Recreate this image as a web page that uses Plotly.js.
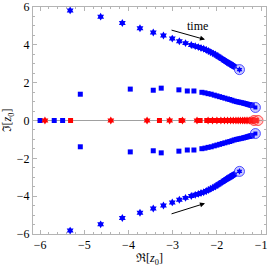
<!DOCTYPE html>
<html><head><meta charset="utf-8">
<script src="https://cdn.plot.ly/plotly-3.0.1.min.js"></script>
<style>html,body{margin:0;padding:0;background:#fff}#c{width:269px;height:269px}</style>
</head><body><div id="c"></div>
<script>
// Complex pair, star family (upper half; lower half is conjugate)
const starX = [-5.32,-4.63,-4.14,-3.74,-3.44,-3.21,-3.01,-2.85,-2.71,-2.58,-2.49,-2.42,-2.36,-2.30,-2.24,-2.19,-2.14,-2.09,-2.04,-2.00,-1.96,-1.92,-1.88,-1.84,-1.81,-1.78,-1.75,-1.72,-1.69,-1.67,-1.65,-1.63,-1.61];
const starY = [5.82,5.49,5.15,4.88,4.65,4.49,4.33,4.19,4.09,3.99,3.93,3.88,3.83,3.79,3.73,3.67,3.61,3.55,3.49,3.43,3.37,3.31,3.25,3.19,3.14,3.09,3.05,3.01,2.97,2.94,2.91,2.88,2.85];
// Complex pair, square family
const sqX = [-5.09,-3.96,-3.44,-3.26,-2.86,-2.67,-2.52,-2.34,-2.27,-2.20,-2.13,-2.06,-2.00,-1.94,-1.88,-1.82,-1.76,-1.71,-1.66,-1.61,-1.56,-1.52,-1.48,-1.44,-1.40,-1.37,-1.34,-1.31,-1.28,-1.26,-1.24,-1.22,-1.20];
const sqY = [1.39,1.66,1.60,1.71,1.62,1.56,1.56,1.49,1.46,1.42,1.39,1.34,1.30,1.26,1.22,1.18,1.14,1.11,1.07,1.03,1.00,0.98,0.96,0.94,0.92,0.90,0.88,0.86,0.84,0.83,0.82,0.81,0.79];
// Real roots
const blueRealSqX = [-6.00,-5.68,-5.49];
const redStarX = [-5.89,-4.40,-3.58,-3.07,-2.78,-2.45,-2.20,-2.10,-2.00,-1.91,-1.83,-1.76,-1.69,-1.63,-1.57,-1.52,-1.47,-1.42,-1.38,-1.34,-1.30,-1.26,-1.23,-1.20,-1.17,-1.14];
const redSqX = [-5.31,-3.30,-2.81,-2.38,-2.23,-2.14,-2.05,-1.96,-1.88,-1.80,-1.73,-1.66,-1.60,-1.54,-1.49,-1.44,-1.40,-1.36,-1.32,-1.28,-1.25,-1.22,-1.19,-1.16,-1.13,-1.11];
// Final (circled) points
const endStarX = [-1.49,-1.49];
const endStarY = [2.69,-2.69];
const endSqX = [-1.13,-1.13];
const endSqY = [0.69,-0.69];
const endRedX = [-1.16,-1.07];

const neg = a => a.map(v => -v);
const zeros = a => a.map(() => 0);
const BLUE = '#0000ff', RED = '#ff0000';
const ringB = {symbol:'circle', size:10, color:'rgba(80,80,255,0.3)', line:{color:'rgba(40,40,255,0.8)', width:1}};
const ringR = {symbol:'circle', size:10, color:'rgba(255,80,80,0.3)', line:{color:'rgba(255,40,40,0.8)', width:1}};

const traces = [
  {x: starX, y: starY, mode:'markers', marker:{symbol:'hexagram', size:6, color:BLUE}},
  {x: starX, y: neg(starY), mode:'markers', marker:{symbol:'hexagram', size:6, color:BLUE}},
  {x: sqX, y: sqY, mode:'markers', marker:{symbol:'square', size:5, color:BLUE}},
  {x: sqX, y: neg(sqY), mode:'markers', marker:{symbol:'square', size:5, color:BLUE}},
  {x: blueRealSqX, y: zeros(blueRealSqX), mode:'markers', marker:{symbol:'square', size:5, color:BLUE}},
  {x: redStarX, y: zeros(redStarX), mode:'markers', marker:{symbol:'hexagram', size:6, color:RED}},
  {x: redSqX, y: zeros(redSqX), mode:'markers', marker:{symbol:'square', size:5, color:RED}},
  {x: endStarX, y: endStarY, mode:'markers', marker:ringB},
  {x: endStarX, y: endStarY, mode:'markers', marker:{symbol:'hexagram', size:5, color:BLUE}},
  {x: endSqX, y: endSqY, mode:'markers', marker:ringB},
  {x: endSqX, y: endSqY, mode:'markers', marker:{symbol:'square', size:4, color:BLUE}},
  {x: endRedX, y: zeros(endRedX), mode:'markers', marker:ringR}
];

const frame = '#b4b4b4';
const layout = {
  width:269, height:269,
  margin:{l:33, r:3, t:7, b:35},
  paper_bgcolor:'#fff', plot_bgcolor:'#fff',
  showlegend:false,
  font:{family:'Liberation Serif, Times New Roman, serif', size:12, color:'#000'},
  xaxis:{
    range:[-6.16,-0.89], tickvals:[-6,-5,-4,-3,-2,-1],
    showgrid:false, zeroline:false, showline:true, mirror:'ticks', linecolor:frame, linewidth:1,
    ticks:'inside', ticklen:4, tickcolor:frame, ticklabeloverflow:'allow',
    minor:{dtick:0.2, tick0:0, ticks:'inside', ticklen:2, tickcolor:frame, showgrid:false},
    tickfont:{size:12},
    title:{text:'ℜ[<i>z</i><sub>0</sub>]', font:{size:12}, standoff:2}
  },
  yaxis:{
    range:[-6,6], tickvals:[-6,-4,-2,0,2,4,6],
    showgrid:false, zeroline:true, zerolinecolor:'#a0a0a0', zerolinewidth:1,
    showline:true, mirror:'ticks', linecolor:frame, linewidth:1,
    ticks:'inside', ticklen:4, tickcolor:frame, ticklabeloverflow:'allow',
    minor:{dtick:0.5, tick0:0, ticks:'inside', ticklen:2, tickcolor:frame, showgrid:false},
    tickfont:{size:12},
    title:{text:'ℑ[<i>z</i><sub>0</sub>]', font:{size:12}, standoff:2}
  },
  annotations:[
    {x:-2.27, y:4.28, ax:-3.06, ay:4.80, xref:'x', yref:'y', axref:'x', ayref:'y', showarrow:true, arrowhead:2, arrowsize:1, arrowwidth:1, arrowcolor:'#000', text:''},
    {x:-2.27, y:-4.38, ax:-3.06, ay:-4.96, xref:'x', yref:'y', axref:'x', ayref:'y', showarrow:true, arrowhead:2, arrowsize:1, arrowwidth:1, arrowcolor:'#000', text:''},
    {x:-2.45, y:5.0, xref:'x', yref:'y', text:'time', showarrow:false, font:{size:12, color:'#000'}}
  ]
};
Plotly.newPlot('c', traces, layout, {staticPlot:true, displayModeBar:false});
</script></body></html>
